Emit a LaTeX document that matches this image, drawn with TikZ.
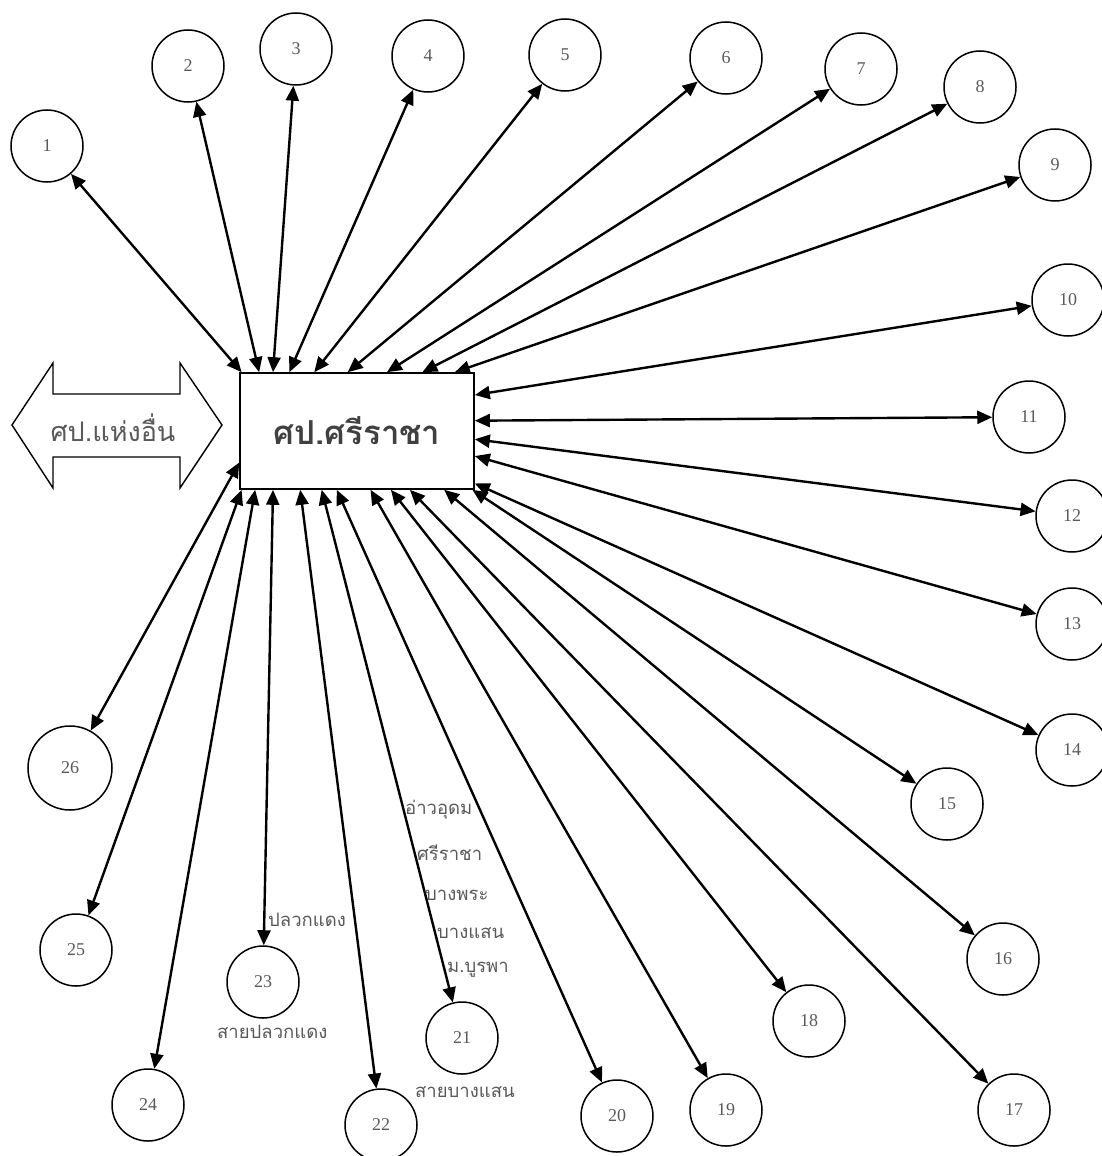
\documentclass[tikz,border=0pt]{standalone}
\usepackage{fontspec}
\setmainfont{Liberation Serif}
\newfontfamily\thaifont[Script=Thai]{Loma}
\usetikzlibrary{arrows.meta}

\begin{document}
\begin{tikzpicture}[x=1pt,y=-1pt]
	\tikzset{
		hub/.style={draw=black, line width=1.6pt, minimum width=234pt, minimum height=116pt, text=black!75, font=\thaifont\bfseries\fontsize{33}{36}\selectfont},
		num/.style={circle, draw=black, line width=1.5pt, minimum size=72pt, inner sep=0pt, text=black!65, font=\fontsize{18}{20}\selectfont},
		link/.style={<->, >={Triangle[length=15pt,width=13pt]}, line width=2.4pt},
		tag/.style={anchor=west, inner sep=0pt, text=black!65, font=\thaifont\fontsize{18.5}{20}\selectfont}
	}
	\useasboundingbox (0,0) rectangle (1102,1156);

	% Centre box
	\node[hub] (main) at (357,431) {ศป.ศรีราชา};

	% Double arrow on the left
	\draw[line width=1.4pt] (12,425) -- (53,363) -- (53,394) -- (180,394) -- (180,363) -- (222,425)
		-- (180,488) -- (180,457) -- (53,457) -- (53,488) -- cycle;
	\node[text=black!65, font=\thaifont\fontsize{27}{30}\selectfont] (other) at (113,428) {ศป.แห่งอื่น};

	% Circles, top row
	\node[num] (c1) at (47,146) {1};
	\node[num] (c2) at (188,66) {2};
	\node[num] (c3) at (296,49) {3};
	\node[num] (c4) at (428,56) {4};
	\node[num] (c5) at (565,55) {5};
	\node[num] (c6) at (726,58) {6};
	\node[num] (c7) at (861,69) {7};
	\node[num] (c8) at (980,87) {8};
	\node[num] (c9) at (1055,165) {9};
	% Circles, right side
	\node[num] (c10) at (1068,300) {10};
	\node[num] (c11) at (1029,417) {11};
	\node[num] (c12) at (1072,516) {12};
	\node[num] (c13) at (1072,624) {13};
	\node[num] (c14) at (1072,750) {14};
	\node[num] (c15) at (947,804) {15};
	\node[num] (c16) at (1003,959) {16};
	\node[num] (c17) at (1014,1110) {17};
	% Circles, bottom
	\node[num] (c18) at (809,1021) {18};
	\node[num] (c19) at (726,1110) {19};
	\node[num] (c20) at (617,1116) {20};
	\node[num] (c21) at (462,1038) {21};
	\node[num] (c22) at (381,1125) {22};
	\node[num] (c23) at (263,982) {23};
	\node[num] (c24) at (148,1105) {24};
	\node[num] (c25) at (76,950) {25};
	\node[num, minimum size=84pt] (c26) at (70,768) {26};

	% Links to the centre
	\draw[link] (c1) -- (main.153);
	\draw[link] (c2) -- (main.149);
	\draw[link] (c3) -- (main.145);
	\draw[link] (c4) -- (main.139);
	\draw[link] (c5) -- (main.126);
	\draw[link] (c6) -- (main.99);
	\draw[link] (c7) -- (main.63);
	\draw[link] (c8) -- (main.42);
	\draw[link] (c9) -- (main.31);
	\draw[link] (c10) -- (main.17);
	\draw[link] (c11) -- (main.5);
	\draw[link] (c12) -- (main.-4);
	\draw[link] (c13) -- (main.-12);
	\draw[link] (c14) -- (main.-24);
	\draw[link] (c15) -- (main.-27.5);
	\draw[link] (c16) -- (main.-34);
	\draw[link] (c17) -- (main.-48);
	\draw[link] (c18) -- (main.-60);
	\draw[link] (c19) -- (main.-77);
	\draw[link] (c20) -- (main.-109);
	\draw[link] (c21) -- (main.-121);
	\draw[link] (c22) -- (main.-134);
	\draw[link] (c23) -- (main.-145);
	\draw[link] (c24) -- (main.-150);
	\draw[link] (c25) -- (main.-153);
	\draw[link] (c26) -- (main.-165);

	% Route names
	\node[tag] (t1) at (405,810) {อ่าวอุดม};
	\node[tag] (t2) at (417,853) {ศรีราชา};
	\node[tag] (t3) at (425,895) {บางพระ};
	\node[tag] (t4) at (437,933) {บางแสน};
	\node[tag] (t5) at (447,970) {ม.บูรพา};
	\node[tag] (t6) at (268,920) {ปลวกแดง};
	\node[tag] (t7) at (217,1032) {สายปลวกแดง};
	\node[tag] (t8) at (415,1092) {สายบางแสน};
\end{tikzpicture}
\end{document}
